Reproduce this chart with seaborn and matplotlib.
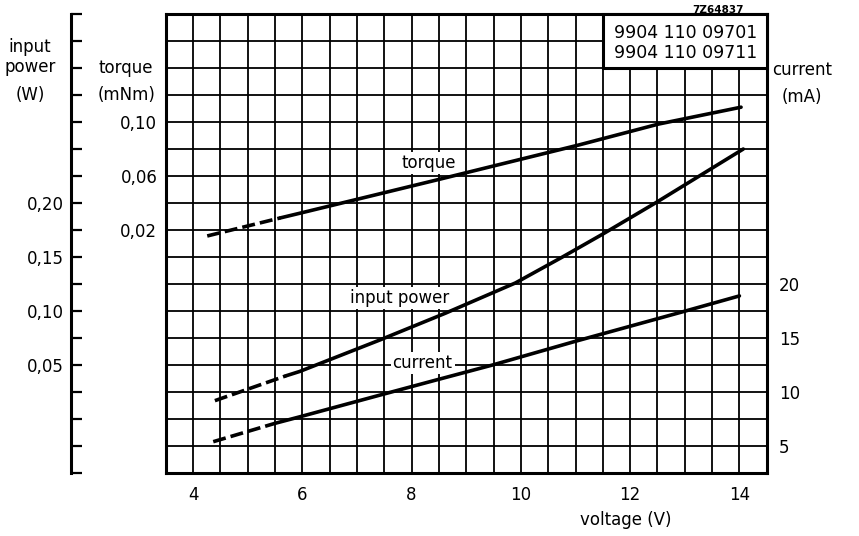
import numpy as np
import matplotlib
matplotlib.use('Agg')
import matplotlib.pyplot as plt
from matplotlib.patches import Rectangle
import seaborn as sns

# Curves (first segment of each one is dashed)
torque_v = [4.26, 5.6, 5.95, 8.45, 11.06, 12.52, 14.03]
torque = [0.0156, 0.029, 0.0324, 0.057, 0.083, 0.0985, 0.111]

power_v = [4.40, 5.7, 5.95, 7.41, 8.62, 9.90, 10.76, 11.49, 12.46, 14.07]
power = [0.017, 0.040, 0.044, 0.073, 0.098, 0.126, 0.150, 0.171, 0.200, 0.250]

current_v = [4.37, 5.5, 5.95, 7.41, 8.44, 9.48, 11.0, 11.97, 12.94, 14.0]
current = [5.4, 7.1, 7.7, 9.7, 11.1, 12.5, 14.7, 16.05, 17.4, 18.9]

# Axis ticks and labels
volt_ticks = [4, 6, 8, 10, 12, 14]
current_ticks = [5, 10, 15, 20]
torque_ticks = [0.02, 0.06, 0.10]
torque_labels = ['0,02', '0,06', '0,10']
power_ticks = [0.05, 0.10, 0.15, 0.20]
power_labels = ['0,05', '0,10', '0,15', '0,20']
box_lines = ['9904 110 09701', '9904 110 09711']

sns.set_style('white')
plt.rcParams['font.family'] = ['DejaVu Sans']
plt.rcParams['text.color'] = 'black'
plt.rcParams['xtick.color'] = 'black'
plt.rcParams['ytick.color'] = 'black'
plt.rcParams['axes.labelcolor'] = 'black'
FS = 12

fig = plt.figure(figsize=(8.59, 5.36), dpi=100)
ax = fig.add_axes([0.1929, 0.1175, 0.6997, 0.8563])
ax_t = ax.twinx()
ax_p = ax.twinx()

# main grid, current scale (2.5 mA per row, 17 rows)
ax.set_xlim(3.5, 14.5)
ax.set_ylim(2.5, 45)
ax.set_xticks(volt_ticks)
ax.set_xticks(np.arange(3.5, 14.51, 0.5), minor=True)
ax.set_yticks(current_ticks)
ax.set_yticks(np.arange(2.5, 45.01, 2.5), minor=True)
ax.grid(True, which='both', color='black', linewidth=1.3)
ax.tick_params(axis='both', which='both', length=0, labelsize=FS)
ax.tick_params(axis='x', pad=9)
ax.tick_params(axis='y', pad=9)
for s in ax.spines.values():
    s.set_visible(True)
    s.set_color('black')
    s.set_linewidth(2.2)

# torque scale (0.02 mNm per row)
ax_t.set_ylim(-0.16, 0.18)
ax_t.yaxis.tick_left()
ax_t.set_yticks(torque_ticks)
ax_t.set_yticklabels(torque_labels)
ax_t.tick_params(axis='y', length=0, labelsize=FS, pad=6)
for s in ax_t.spines.values():
    s.set_visible(False)

# input power scale (0.025 W per row) on a detached left spine
ax_p.set_ylim(-0.05, 0.375)
ax_p.yaxis.tick_left()
ax_p.spines['left'].set_position(('axes', -0.1576))
for name, s in ax_p.spines.items():
    s.set_visible(name == 'left')
ax_p.spines['left'].set_linewidth(2.2)
ax_p.spines['left'].set_color('black')
p_all = np.arange(-0.05, 0.3751, 0.025)
ax_p.set_yticks(p_all)
ax_p.set_yticklabels([power_labels[power_ticks.index(round(t, 3))] if round(t, 3) in power_ticks else ''
                      for t in p_all])
ax_p.tick_params(axis='y', direction='in', length=8, width=1.6, labelsize=FS, pad=5)

lw = 2.6
dash = (0, (3.6, 1.4))
sns.lineplot(x=torque_v[:2], y=torque[:2], ax=ax_t, color='black', linewidth=lw, linestyle=dash)
sns.lineplot(x=torque_v[1:], y=torque[1:], ax=ax_t, color='black', linewidth=lw)
sns.lineplot(x=power_v[:2], y=power[:2], ax=ax_p, color='black', linewidth=lw, linestyle=dash)
sns.lineplot(x=power_v[1:], y=power[1:], ax=ax_p, color='black', linewidth=lw)
sns.lineplot(x=current_v[:2], y=current[:2], ax=ax, color='black', linewidth=lw, linestyle=dash, zorder=5)
sns.lineplot(x=current_v[1:], y=current[1:], ax=ax, color='black', linewidth=lw, zorder=5)
ax_t.set_ylim(-0.16, 0.18)
ax_p.set_ylim(-0.05, 0.375)
ax.set_ylim(2.5, 45)
ax.set_xlim(3.5, 14.5)
ax.yaxis.tick_right()

# curve labels on white patches
wb = dict(facecolor='white', edgecolor='none', pad=1.5)
ax.text(8.32, 31.2, 'torque', fontsize=FS, ha='center', va='center', bbox=wb, zorder=4)
ax.text(7.78, 18.7, 'input power', fontsize=FS, ha='center', va='center', bbox=wb, zorder=4)
ax.text(8.2, 12.7, 'current', fontsize=FS, ha='center', va='center', bbox=wb, zorder=4)

# type number box
ax.add_patch(Rectangle((11.5, 40), 3.0, 5.0, facecolor='white', edgecolor='black',
                       linewidth=2.2, zorder=6, clip_on=False))
ax.text(14.33, 43.2, box_lines[0], fontsize=12.5, ha='right', va='center', zorder=7)
ax.text(14.33, 41.4, box_lines[1], fontsize=12.5, ha='right', va='center', zorder=7)
fig.text(718 / 859, 1 - 10 / 536, '7Z64837', fontsize=7.5, fontweight='bold', ha='center', va='center')

# axis titles
def ftext(x, y, s, **kw):
    fig.text(x / 859, 1 - y / 536, s, fontsize=FS, va='center', **kw)

ftext(30, 47, 'input', ha='center')
ftext(30, 67, 'power', ha='center')
ftext(30, 95, '(W)', ha='center')
ftext(126, 68, 'torque', ha='center')
ftext(127, 95, '(mNm)', ha='center')
ftext(802, 70, 'current', ha='center')
ftext(802, 97, '(mA)', ha='center')
ftext(626, 520, 'voltage (V)', ha='center')

fig.savefig('out.png', dpi=100, facecolor='white')
